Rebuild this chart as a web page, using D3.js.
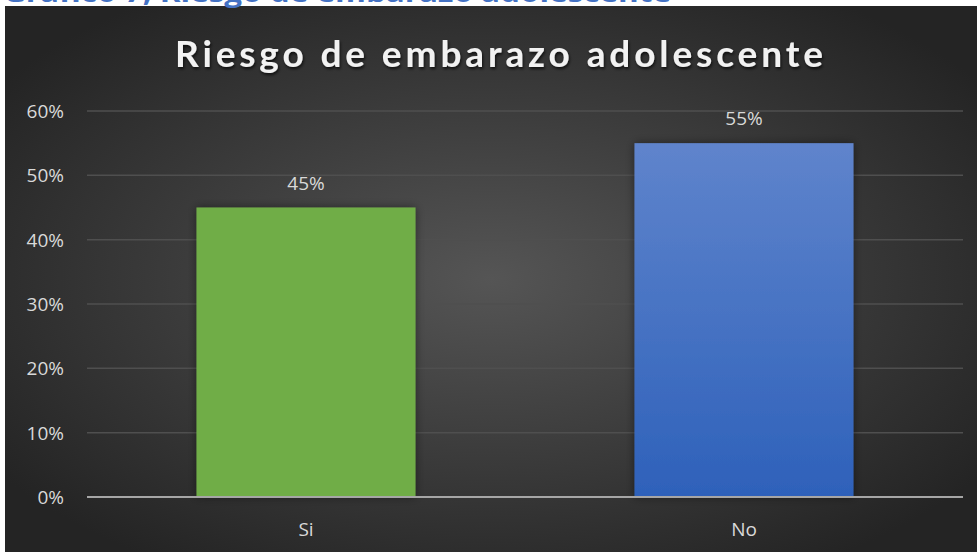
<!DOCTYPE html>
<html>
<head>
<meta charset="utf-8">
<script src="https://cdn.jsdelivr.net/npm/d3@7"></script>
<style>
  html, body { margin: 0; padding: 0; background: #ffffff; }
  svg { display: block; }
</style>
</head>
<body>
<svg id="chart" width="978" height="552"></svg>
<script>
// Chart data
const categories = ["Si", "No"];
const values = [0.45, 0.55];
const yTicks = [0, 0.1, 0.2, 0.3, 0.4, 0.5, 0.6];
const chartTitle = "Riesgo de embarazo adolescente";
const caption = "Gráfico 7, Riesgo de embarazo adolescente";

const W = 978, H = 552;
const svg = d3.select("#chart");
const defs = svg.append("defs");

// Dark radial background
const bg = defs.append("radialGradient").attr("id", "bgGrad")
  .attr("cx", "50%").attr("cy", "50%").attr("r", "62%");
bg.append("stop").attr("offset", "0%").attr("stop-color", "#555555");
bg.append("stop").attr("offset", "100%").attr("stop-color", "#242424");

// Blue bar fill
const blue = defs.append("linearGradient").attr("id", "blueGrad")
  .attr("x1", 0).attr("y1", 0).attr("x2", 0).attr("y2", 1);
blue.append("stop").attr("offset", "0%").attr("stop-color", "#5F84CC");
blue.append("stop").attr("offset", "100%").attr("stop-color", "#2E61BA");

// Soft shadow for bars
const sh = defs.append("filter").attr("id", "barShadow")
  .attr("x", "-20%").attr("y", "-20%").attr("width", "140%").attr("height", "140%");
sh.append("feDropShadow").attr("dx", 0).attr("dy", 0).attr("stdDeviation", 5)
  .attr("flood-color", "#000").attr("flood-opacity", 0.45);

// Title shadow
const tsh = defs.append("filter").attr("id", "titleShadow")
  .attr("x", "-10%").attr("y", "-30%").attr("width", "120%").attr("height", "160%");
tsh.append("feDropShadow").attr("dx", 1).attr("dy", 2).attr("stdDeviation", 1.5)
  .attr("flood-color", "#000").attr("flood-opacity", 0.7);

// Chart frame
svg.append("rect").attr("x", 5).attr("y", 6).attr("width", 972).attr("height", H - 6)
  .attr("fill", "url(#bgGrad)");

// Caption above the frame (mostly clipped by the page edge)
svg.append("text")
  .attr("x", 3).attr("y", 1.5)
  .attr("textLength", 668).attr("lengthAdjust", "spacingAndGlyphs")
  .attr("font-family", "Open Sans, sans-serif").attr("font-weight", 700)
  .attr("font-size", 27).attr("fill", "#4472C4")
  .text(caption);

// Plot area
const plot = { left: 87, right: 963, top: 111, bottom: 497 };

const x = d3.scaleBand().domain(categories)
  .range([plot.left, plot.right]).paddingInner(0.5).paddingOuter(0.25);
const y = d3.scaleLinear().domain([0, 0.6]).range([plot.bottom, plot.top]);

// Gridlines
svg.append("g").selectAll("line").data(yTicks.filter(d => d > 0)).join("line")
  .attr("x1", plot.left).attr("x2", plot.right)
  .attr("y1", d => y(d)).attr("y2", d => y(d))
  .attr("stroke", "#4f4f4f").attr("stroke-width", 1.5);

// Y axis labels
const yAxis = d3.axisLeft(y).tickValues(yTicks).tickFormat(d3.format(".0%"))
  .tickSize(0).tickPadding(0);
const gy = svg.append("g").attr("transform", `translate(${plot.left - 23},0)`).call(yAxis);
gy.select(".domain").remove();
gy.selectAll("text")
  .attr("font-family", "Open Sans, sans-serif").attr("font-size", 19)
  .attr("fill", "#d9d9d9").attr("dy", "0.35em");

// Bars
const fills = ["#70AD47", "url(#blueGrad)"];
svg.append("g").selectAll("rect").data(values).join("rect")
  .attr("x", (d, i) => x(categories[i]))
  .attr("width", x.bandwidth())
  .attr("y", d => y(d))
  .attr("height", d => y(0) - y(d))
  .attr("fill", (d, i) => fills[i])
  .attr("filter", "url(#barShadow)");

// Baseline
svg.append("line")
  .attr("x1", plot.left).attr("x2", plot.right)
  .attr("y1", y(0)).attr("y2", y(0))
  .attr("stroke", "#a6a6a6").attr("stroke-width", 2);

// Value labels
svg.append("g").selectAll("text").data(values).join("text")
  .attr("x", (d, i) => x(categories[i]) + x.bandwidth() / 2)
  .attr("y", d => y(d) - 18)
  .attr("text-anchor", "middle")
  .attr("font-family", "Open Sans, sans-serif").attr("font-size", 19)
  .attr("fill", "#d9d9d9")
  .text(d => d3.format(".0%")(d));

// Category axis
const xAxis = d3.axisBottom(x).tickSize(0).tickPadding(0);
const gx = svg.append("g").attr("transform", `translate(0,${plot.bottom + 39})`).call(xAxis);
gx.select(".domain").remove();
gx.selectAll("text")
  .attr("font-family", "Open Sans, sans-serif").attr("font-size", 19)
  .attr("fill", "#d9d9d9").attr("dy", 0);

// Title
svg.append("text")
  .attr("x", W / 2 + 10).attr("y", 67)
  .attr("text-anchor", "middle")
  .attr("textLength", 648).attr("lengthAdjust", "spacing")
  .attr("font-family", "Lato, sans-serif").attr("font-weight", 700)
  .attr("font-size", 37).attr("fill", "#f2f2f2")
  .attr("filter", "url(#titleShadow)")
  .text(chartTitle);
</script>
</body>
</html>
